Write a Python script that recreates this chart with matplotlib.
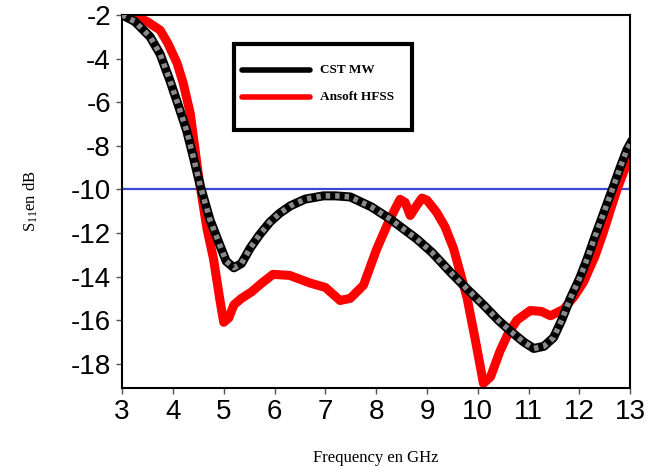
import numpy as np
import matplotlib
matplotlib.use("Agg")
import matplotlib.pyplot as plt
from matplotlib.patches import Rectangle
from matplotlib.lines import Line2D

# CST MW simulation (GHz, dB)
cst_freq = [3.0, 3.25, 3.55, 3.75, 3.94, 4.1, 4.27, 4.4, 4.54, 4.73, 4.93, 5.05, 5.2,
            5.35, 5.52, 5.7, 5.91, 6.1, 6.31, 6.6, 6.96, 7.2, 7.49, 7.9, 8.28, 8.8, 9.1,
            9.46, 9.8, 10.11, 10.4, 10.64, 10.9, 11.1, 11.3, 11.49, 11.65, 11.82, 12.0,
            12.15, 12.3, 12.48, 12.67, 12.8, 12.93, 13.0]
cst_s11 = [-2.0, -2.3, -3.0, -3.8, -5.0, -6.1, -7.3, -8.5, -9.85, -11.4, -12.6, -13.3, -13.6,
           -13.4, -12.7, -12.1, -11.5, -11.1, -10.76, -10.45, -10.3, -10.3, -10.35, -10.8, -11.37,
           -12.28, -12.9, -13.8, -14.6, -15.3, -16.0, -16.5, -17.0, -17.3, -17.2, -16.8, -16.0,
           -15.0, -14.1, -13.2, -12.2, -11.06, -9.85, -9.0, -8.2, -7.9]

# Ansoft HFSS simulation (GHz, dB)
hfss_freq = [3.0, 3.25, 3.49, 3.75, 3.9, 4.08, 4.2, 4.34, 4.5, 4.67, 4.8, 4.92, 5.0, 5.1,
             5.2, 5.35, 5.55, 5.75, 5.97, 6.3, 6.7, 7.0, 7.29, 7.49, 7.75, 8.01, 8.21, 8.35,
             8.47, 8.57, 8.67, 8.78, 8.9, 9.0, 9.19, 9.35, 9.52, 9.65, 9.79, 9.95, 10.11,
             10.25, 10.44, 10.6, 10.77, 11.03, 11.25, 11.43, 11.69, 11.9, 12.08, 12.3, 12.47,
             12.6, 12.74, 12.87, 12.97, 13.0]
hfss_s11 = [-2.0, -2.05, -2.3, -2.7, -3.3, -4.2, -5.1, -6.5, -9.3, -11.8, -13.2, -15.0, -16.1, -15.9,
            -15.3, -15.0, -14.7, -14.3, -13.9, -13.95, -14.3, -14.5, -15.1, -15.0, -14.4, -12.74, -11.67, -11.0,
            -10.46, -10.6, -11.2, -10.8, -10.4, -10.5, -11.06, -11.7, -12.7, -13.8, -15.0, -16.9, -18.9,
            -18.6, -17.4, -16.6, -16.0, -15.56, -15.6, -15.8, -15.5, -14.9, -14.25, -13.1, -11.97,
            -11.0, -10.0, -9.2, -8.6, -8.4]

threshold = -10

xticks = list(range(3, 14))
yticks = list(range(-18, -1, 2))

plt.rcParams['mathtext.fontset'] = 'custom'
plt.rcParams['mathtext.rm'] = 'Liberation Serif'
plt.rcParams['mathtext.it'] = 'Liberation Serif'

fig = plt.figure(figsize=(6.67, 4.66), dpi=100)
ax = fig.add_axes([0.183, 0.168, 0.762, 0.800])

ax.axhline(threshold, color='#3a48d8', lw=1.6, zorder=1)

# red HFSS curve
ax.plot(hfss_freq, hfss_s11, color='#ff0000', lw=6.5, solid_joinstyle='round', zorder=2)
# CST curve: black line with grey square texture
ax.plot(cst_freq, cst_s11, color='black', lw=6.5, zorder=3)
ax.plot(cst_freq, cst_s11, color='#8a8a8a', lw=4, dashes=(0.8, 0.9), zorder=4)

ax.set_xlim(3, 13)
ax.set_ylim(-19.1, -2)
ax.set_xticks(xticks)
ax.set_yticks(yticks)
ax.set_xticklabels([str(t) for t in xticks], fontfamily='Liberation Sans', fontsize=20)
ax.set_yticklabels([str(t) for t in yticks], fontfamily='Liberation Sans', fontsize=20)
ax.tick_params(direction='out', length=4, width=1, pad=4, color='#555555')
for s in ax.spines.values():
    s.set_linewidth(1.5)
    s.set_color('black')

ax.set_xlabel('Frequency en GHz', fontfamily='Liberation Serif', fontsize=12, labelpad=18)
ax.set_ylabel('S$_{11}$en dB', fontfamily='Liberation Serif', fontsize=12, labelpad=22)

# legend box
ax.add_patch(Rectangle((0.22, 0.692), 0.351, 0.23, transform=ax.transAxes,
                       fill=True, facecolor='white', edgecolor='black', lw=3, zorder=6))
ax.add_line(Line2D([0.236, 0.37], [0.851, 0.851], transform=ax.transAxes,
                   color='black', lw=4, solid_capstyle='round', zorder=7))
ax.add_line(Line2D([0.236, 0.37], [0.781, 0.781], transform=ax.transAxes,
                   color='#ff0000', lw=4, solid_capstyle='round', zorder=7))
ax.text(0.39, 0.851, 'CST MW', transform=ax.transAxes, fontfamily='Liberation Serif',
        fontsize=9.5, fontweight='bold', va='center', zorder=8)
ax.text(0.39, 0.781, 'Ansoft HFSS', transform=ax.transAxes, fontfamily='Liberation Serif',
        fontsize=9.5, fontweight='bold', va='center', zorder=8)

fig.savefig('out.png', dpi=100)
